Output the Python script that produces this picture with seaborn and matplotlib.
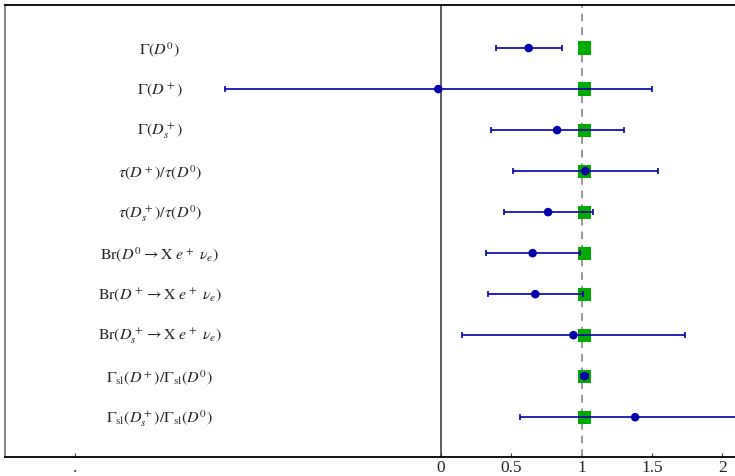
import matplotlib
matplotlib.use("Agg")
import matplotlib.pyplot as plt
import seaborn as sns
import pandas as pd
import numpy as np

labels = [
    r'$\Gamma(D^0)$',
    r'$\Gamma(D^+)$',
    r'$\Gamma(D_s^+)$',
    r'$\tau(D^+)/\tau(D^0)$',
    r'$\tau(D_s^+)/\tau(D^0)$',
    r'${\rm Br}(D^0 \rightarrow {\rm X}\ e^+\ \nu_e)$',
    r'${\rm Br}(D^+ \rightarrow {\rm X}\ e^+\ \nu_e)$',
    r'${\rm Br}(D_s^+ \rightarrow {\rm X}\ e^+\ \nu_e)$',
    r'$\Gamma_{\rm sl}(D^+)/\Gamma_{\rm sl}(D^0)$',
    r'$\Gamma_{\rm sl}(D_s^+)/\Gamma_{\rm sl}(D^0)$',
]
rows = [1, 2, 3, 4, 5, 6, 7, 8, 9, 10]
central = [0.624, -0.019, 0.826, 1.027, 0.762, 0.652, 0.671, 0.942, 1.020, 1.381]
lower = [0.389, -1.537, 0.358, 0.510, 0.448, 0.323, 0.335, 0.149, 0.995, 0.560]
upper = [0.864, 1.504, 1.300, 1.545, 1.080, 0.992, 1.013, 1.734, 1.045, 2.300]
reference = [1.02] * 10

xticks = [-2.6, 0, 0.5, 1, 1.5, 2]
xticklabels = ['.', '0', '0.5', '1', '1.5', '2']

df = pd.DataFrame({'label': labels, 'row': rows, 'central': central,
                   'lower': lower, 'upper': upper, 'ref': reference})

sns.set_style('white')
plt.rcParams['mathtext.fontset'] = 'stix'
plt.rcParams['font.family'] = ['Liberation Serif', 'DejaVu Serif']

fig = plt.figure(figsize=(7.35, 4.77), dpi=100)
ax = fig.add_axes([5 / 735, 1 - 458 / 477, 730 / 735, (458 - 6) / 477])

green = '#00aa00'
blue = '#0000aa'

sns.scatterplot(data=df, x='ref', y='row', marker='s', s=90, color=green,
                edgecolor='none', linewidth=0, ax=ax, zorder=2, legend=False)
ax.errorbar(df['central'], df['row'],
            xerr=[df['central'] - df['lower'], df['upper'] - df['central']],
            fmt='none', ecolor=blue, elinewidth=1.2, capsize=2.2,
            capthick=1.2, zorder=3)
sns.scatterplot(data=df, x='central', y='row', marker='o', s=38, color=blue,
                edgecolor='none', linewidth=0, ax=ax, zorder=4, legend=False)

ax.axvline(0, color='#333333', lw=1.1, zorder=1)
ax.axvline(1, color='#999999', lw=1.4, ls=(0, (4, 3)), zorder=1.5)

for lab, r in zip(df['label'], df['row']):
    ax.text(-2.0, r, lab, ha='center', va='center', fontsize=11.5)

ax.set_xlim(-3.10, 2.091)
ax.set_ylim(10.97, -0.05)
ax.set_yticks([])
ax.set_xticks(xticks)
ax.set_xticklabels(xticklabels, fontsize=12.5)
ax.tick_params(axis='x', direction='in', length=3, width=0.8, pad=1.5,
               bottom=True, color='#444444')
ax.set_xlabel('')
ax.set_ylabel('')

for side in ['top', 'bottom']:
    ax.spines[side].set_color('black')
    ax.spines[side].set_linewidth(1.3)
ax.spines['left'].set_color('#888888')
ax.spines['left'].set_linewidth(1.5)
ax.spines['right'].set_visible(False)

fig.savefig('out.png', dpi=100)
